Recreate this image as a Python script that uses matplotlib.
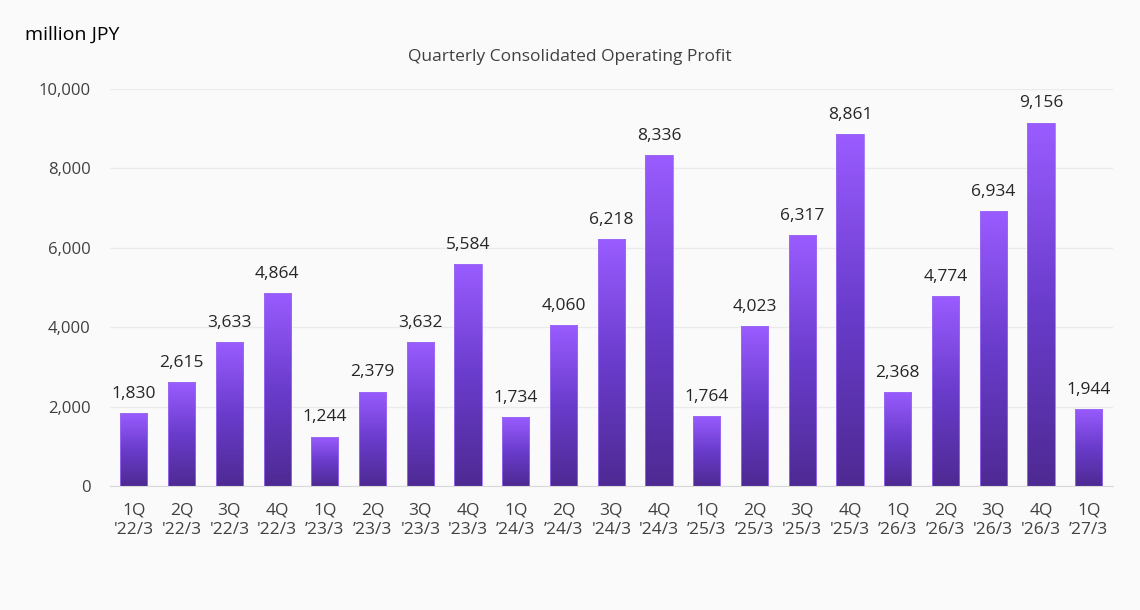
import numpy as np
import matplotlib.pyplot as plt
from matplotlib.colors import LinearSegmentedColormap

quarters = ["1Q", "2Q", "3Q", "4Q"] * 5 + ["1Q"]
years = ["'22/3"] * 4 + ["\u201923/3", "\u201923/3", "'23/3", "'23/3",
         "\u201924/3", "\u201924/3", "'24/3", "'24/3",
         "\u201925/3", "\u201925/3", "'25/3", "'25/3",
         "\u201926/3", "\u201926/3", "'26/3", "'26/3",
         "\u201927/3"]
profit = [1830, 2615, 3633, 4864, 1244, 2379, 3632, 5584, 1734, 4060,
          6218, 8336, 1764, 4023, 6317, 8861, 2368, 4774, 6934, 9156, 1944]

labels = [q + "\n" + y for q, y in zip(quarters, years)]

plt.rcParams['font.family'] = ['Open Sans', 'DejaVu Sans']
bg = '#fafafa'
txt = '#404040'

fig = plt.figure(figsize=(11.4, 6.1), dpi=100, facecolor=bg)
ax = fig.add_axes([0.0965, 0.2033, 0.8795, 0.6508], facecolor=bg)

x = np.arange(len(profit))
bars = ax.bar(x, profit, width=0.57, color='none', edgecolor='#9b6cf5', linewidth=0.6, zorder=3)

# per-bar vertical gradient
cmap = LinearSegmentedColormap.from_list('purp', ['#4e2a93', '#6a3ccc', '#9a5cff'])
grad = np.linspace(0, 1, 256).reshape(-1, 1)
for b in bars:
    x0, w, h = b.get_x(), b.get_width(), b.get_height()
    im = ax.imshow(grad, cmap=cmap, aspect='auto', origin='lower',
                   extent=[x0, x0 + w, 0, h], zorder=2)
    im.set_clip_path(b)

for xi, v in zip(x, profit):
    ax.annotate(f"{v:,}", (xi, v), xytext=(0, 8), textcoords='offset points',
                ha='center', va='bottom', fontsize=12.5, color='#262626')

ax.set_xlim(-0.5, 20.5)
ax.set_ylim(0, 10000)
ax.set_yticks(np.arange(0, 10001, 2000))
ax.set_yticklabels([f"{t:,}" for t in range(0, 10001, 2000)], fontsize=12, color=txt)
ax.set_xticks(x)
ax.set_xticklabels(labels, fontsize=12.5, color=txt, linespacing=1.3)
ax.tick_params(length=0, pad=12)
ax.tick_params(axis='y', pad=14)
ax.grid(axis='y', color='#ebebeb', linewidth=1, zorder=0)
for s in ['top', 'right', 'left']:
    ax.spines[s].set_visible(False)
ax.spines['bottom'].set_color('#d9d9d9')
ax.spines['bottom'].set_zorder(4)

fig.text(0.5, 0.907, "Quarterly Consolidated Operating Profit", ha='center', va='center',
         fontsize=12.5, color=txt)
fig.text(0.022, 0.943, "million JPY", ha='left', va='center', fontsize=14, color='black')

fig.savefig('out.png', dpi=100, facecolor=bg)
